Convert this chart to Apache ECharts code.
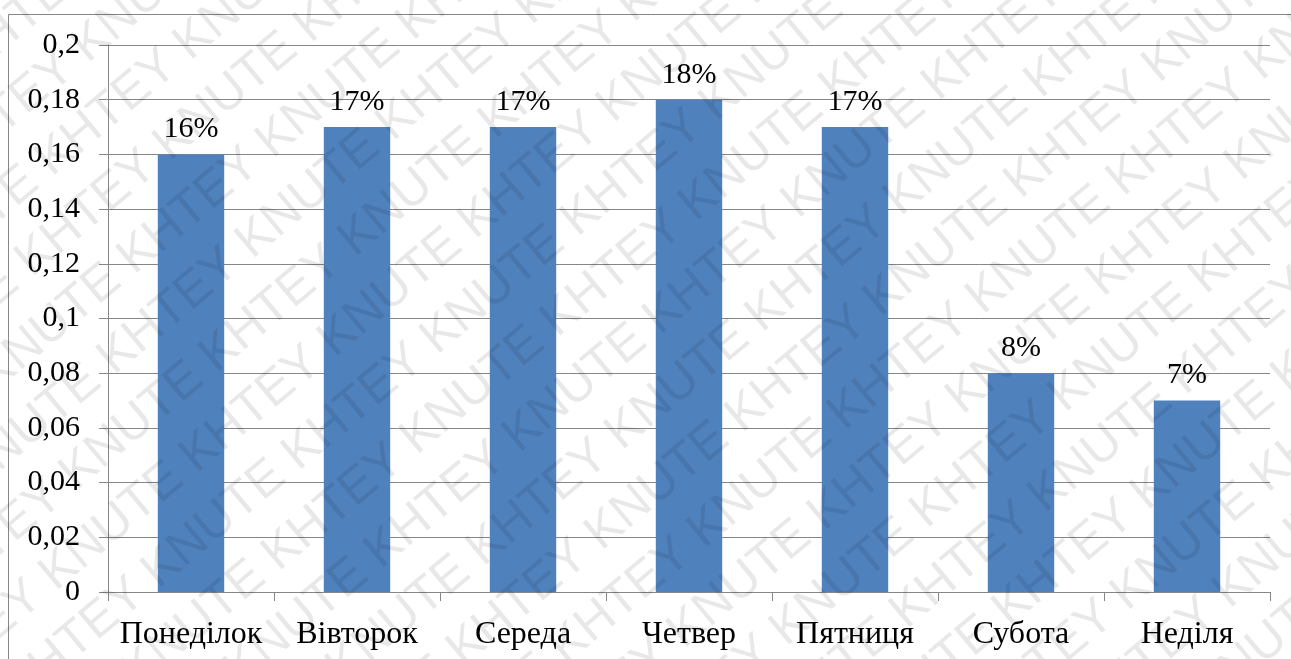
<!DOCTYPE html>
<html>
<head>
<meta charset="utf-8">
<style>
  html, body { margin: 0; padding: 0; background: #fff; }
  #main { width: 1291px; height: 659px; }
</style>
<script src="https://cdn.jsdelivr.net/npm/echarts@6/dist/echarts.min.js"></script>
</head>
<body>
<div id="main"></div>
<script>
// дані діаграми
const days = ['Понеділок', 'Вівторок', 'Середа', 'Четвер', 'Пятниця', 'Субота', 'Неділя'];
const shares = [0.16, 0.17, 0.17, 0.18, 0.17, 0.08, 0.07];
const yTicks = [0, 0.02, 0.04, 0.06, 0.08, 0.1, 0.12, 0.14, 0.16, 0.18, 0.2];

const FONT = 'Liberation Serif, serif';

// водяний знак KHTEY KNUTE поверх діаграми
function makeWatermark(w, h) {
    const c = document.createElement('canvas');
    c.width = w;
    c.height = h;
    const ctx = c.getContext('2d');
    ctx.fillStyle = 'rgba(0,0,0,0.09)';
    ctx.font = '50px "Liberation Sans", Arial, sans-serif';
    ctx.textBaseline = 'middle';
    ctx.translate(w / 2, h / 2);
    ctx.rotate(-40 * Math.PI / 180);
    const line = 'KHTEY KNUTE KHTEY KNUTE KHTEY KNUTE KHTEY KNUTE KHTEY KNUTE KHTEY KNUTE';
    const lw = ctx.measureText(line).width;
    for (let i = -14; i <= 14; i++) {
        const shift = (i % 2) * 80;
        ctx.fillText(line, -lw / 2 + shift, i * 64);
    }
    return c;
}

const myChart = echarts.init(document.getElementById('main'));

const option = {
    backgroundColor: '#fff',
    animation: false,
    textStyle: { fontFamily: FONT, fontSize: 30 },
    grid: { left: 108, right: 21, top: 45, bottom: 67 },
    graphic: [{
        type: 'rect',
        shape: { x: 8.5, y: 14.5, width: 1400, height: 800 },
        style: { fill: 'none', stroke: '#868686', lineWidth: 1 },
        silent: true
    }, {
        type: 'image',
        z: 100,
        silent: true,
        style: { image: makeWatermark(1291, 659), x: 0, y: 0, width: 1291, height: 659 }
    }],
    xAxis: {
        type: 'category',
        data: days,
        axisLine: { lineStyle: { color: '#868686', width: 1 } },
        axisTick: { show: true, length: 9, lineStyle: { color: '#868686' } },
        axisLabel: { color: '#000', fontSize: 32, fontFamily: FONT, margin: 27, interval: 0 },
        splitLine: { show: false }
    },
    yAxis: {
        type: 'value',
        min: 0,
        max: yTicks[yTicks.length - 1],
        interval: 0.02,
        axisLine: { show: true, lineStyle: { color: '#868686', width: 1 } },
        axisTick: { show: true, length: 9, lineStyle: { color: '#868686' } },
        splitLine: { lineStyle: { color: '#868686', width: 1 } },
        axisLabel: {
            color: '#000',
            fontSize: 30,
            fontFamily: FONT,
            margin: 28,
            formatter: function (v) {
                return String(Math.round(v * 100) / 100).replace('.', ',');
            }
        }
    },
    series: [{
        type: 'bar',
        data: shares,
        barWidth: '40%',
        itemStyle: { color: '#4F81BD' },
        label: {
            show: true,
            position: 'top',
            distance: 10,
            color: '#000',
            fontSize: 30,
            fontFamily: FONT,
            formatter: function (p) {
                return Math.round(p.value * 100) + '%';
            }
        }
    }]
};

myChart.setOption(option);
</script>
</body>
</html>
